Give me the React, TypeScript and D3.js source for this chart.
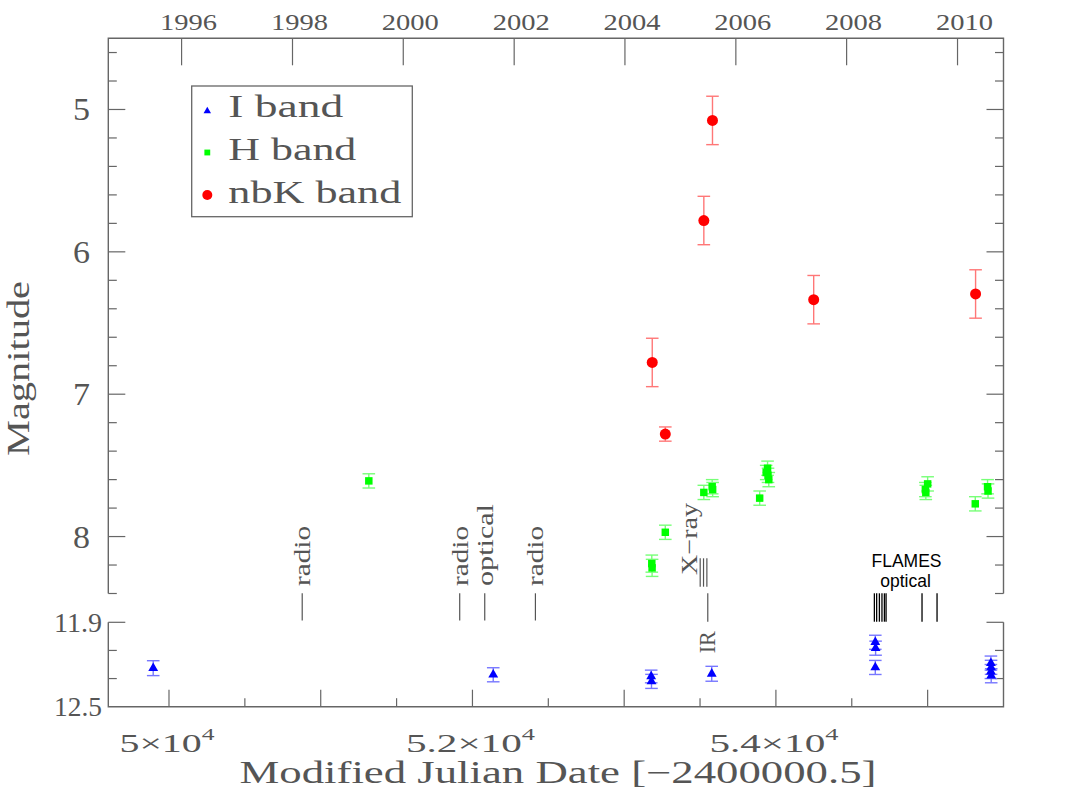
import React from "react";
import * as d3 from "d3";

// ---------- data ----------
const iBandMjd = [49896, 52137, 53178, 53180, 53577, 54655, 54657, 54655, 55417, 55418, 55417, 55419];
const iBandMag = [12.226, 12.273, 12.285, 12.32, 12.266, 12.042, 12.084, 12.221, 12.19, 12.22, 12.25, 12.28];
const iBandErr = [0.053, 0.05, 0.045, 0.05, 0.053, 0.05, 0.05, 0.05, 0.05, 0.05, 0.05, 0.05];

const hBandMjd = [51317, 53182, 53184, 53271, 53525, 53580, 53583, 53893, 53936, 53945, 53948, 53953, 54985, 54988, 55000, 55314, 55395, 55398];
const hBandMag = [7.609, 8.19, 8.22, 7.97, 7.69, 7.65, 7.67, 7.73, 7.55, 7.52, 7.57, 7.6, 7.67, 7.69, 7.63, 7.77, 7.65, 7.68];
const hBandErr = [0.05, 0.06, 0.06, 0.05, 0.05, 0.05, 0.05, 0.05, 0.05, 0.05, 0.05, 0.05, 0.05, 0.05, 0.05, 0.05, 0.05, 0.05];

const kBandMjd = [53582, 53525, 53185, 53271, 54249, 55316];
const kBandMag = [5.077, 5.78, 6.777, 7.28, 6.336, 6.296];
const kBandErr = [0.17, 0.17, 0.17, 0.05, 0.17, 0.17];

const legendLabels = ["I band", "H band", "nbK band"];
const legendWidths = [115, 128, 173];

const yearTicks = [1996, 1998, 2000, 2002, 2004, 2006, 2008, 2010];
const mjdTicks = [50000, 50500, 51000, 51500, 52000, 52500, 53000, 53500, 54000, 54500, 55000];
const mjdLabelValues = [50000, 52000, 54000];
const mjdLabelMantissa = ["5", "5.2", "5.4"];
const mjdLabelWidths = [95, 129, 129];
const upperMagTicks = [4.6, 4.8, 5, 5.2, 5.4, 5.6, 5.8, 6, 6.2, 6.4, 6.6, 6.8, 7, 7.2, 7.4, 7.6, 7.8, 8, 8.2, 8.4];
const upperMagLabels = [5, 6, 7, 8];
const lowerMagTicks = [11.9, 12.1, 12.3];
const lowerMagLabels = [11.9, 12.5];

const eventMjd = [50878, 51916, 52081, 52415];
const eventLabels = ["radio", "radio", "optical", "radio"];
const eventLabelLen = [60, 60, 82, 60];
const xrayMjd = [53501, 53523, 53545];
const irMjd = [53551];
const flamesMjd = [54649, 54664, 54682, 54699, 54715, 54726, 54963, 55062];

// ---------- layout ----------
const W = 1067, H = 797;
const X0 = 108.3, X1 = 1003.5;
const UT = 38.3, UB = 593.5;
const LT = 622.3, LB = 706.7;

const x = d3.scaleLinear().domain([49600, 55500]).range([X0, X1]);
const yU = d3.scaleLinear().domain([4.5, 8.4]).range([UT, UB]);
const yL = d3.scaleLinear().domain([11.9, 12.5]).range([LT, LB]);

const mjdOfYear = (y: number) => (Date.UTC(y, 0, 1) - Date.UTC(1858, 10, 17)) / 864e5;

const SERIF = "'Liberation Serif', 'DejaVu Serif', serif";
const SANS = "'Liberation Sans', Arial, sans-serif";
const TXT = "#555";
const AX = "#666";

const triPath = (s: number) => d3.symbol(d3.symbolTriangle, s)() as string;
const sqPath = (s: number) => d3.symbol(d3.symbolSquare, s)() as string;

function ErrBars({ mjd, mag, err, y, color }: any) {
  return (
    <g stroke={color} strokeWidth={1.4} fill="none">
      {mjd.map((m: number, i: number) => {
        const cx = x(m);
        const y1 = y(mag[i] - err[i]);
        const y2 = y(mag[i] + err[i]);
        return (
          <g key={i}>
            <line x1={cx} x2={cx} y1={y1} y2={y2} />
            <line x1={cx - 6.3} x2={cx + 6.3} y1={y1} y2={y1} />
            <line x1={cx - 6.3} x2={cx + 6.3} y1={y2} y2={y2} />
          </g>
        );
      })}
    </g>
  );
}

export default function App() {
  return (
    <svg width={W} height={H} style={{ position: "absolute", left: 0, top: 0 }} xmlns="http://www.w3.org/2000/svg">
      <rect width={W} height={H} fill="#fff" />

      {/* frames */}
      <path d={`M${X0},${UB}V${UT}H${X1}V${UB}`} fill="none" stroke={AX} strokeWidth={1.4} />
      <path d={`M${X0},${LT}V${LB}H${X1}V${LT}`} fill="none" stroke={AX} strokeWidth={1.4} />

      {/* ticks */}
      <g stroke={AX} strokeWidth={1.2}>
        {upperMagTicks.map((m) => {
          const len = Math.abs(m - Math.round(m)) < 1e-6 ? 17 : 8.5;
          const yy = yU(m);
          return (
            <g key={m}>
              <line x1={X0} x2={X0 + len} y1={yy} y2={yy} />
              <line x1={X1} x2={X1 - len} y1={yy} y2={yy} />
            </g>
          );
        })}
        {lowerMagTicks.map((m, i) => {
          const len = i === 0 ? 17 : 8.5;
          const yy = yL(m);
          return (
            <g key={m}>
              <line x1={X0} x2={X0 + len} y1={yy} y2={yy} />
              <line x1={X1} x2={X1 - len} y1={yy} y2={yy} />
            </g>
          );
        })}
        {mjdTicks.map((t) => {
          const len = t % 1000 === 0 ? 17 : 8.5;
          return <line key={t} x1={x(t)} x2={x(t)} y1={LB} y2={LB - len} />;
        })}
        {yearTicks.map((yr) => (
          <line key={yr} x1={x(mjdOfYear(yr))} x2={x(mjdOfYear(yr))} y1={UT} y2={UT + 27} />
        ))}
      </g>

      {/* tick labels */}
      <g fill={TXT} fontFamily={SERIF}>
        {upperMagLabels.map((m) => (
          <text key={m} x={90} y={yU(m) + 11} fontSize={31} textAnchor="end" textLength={17} lengthAdjust="spacingAndGlyphs">{m}</text>
        ))}
        {lowerMagLabels.map((m) => (
          <text key={m} x={102} y={yL(m) + 9.5} fontSize={27} textAnchor="end" textLength={48} lengthAdjust="spacingAndGlyphs">{m.toFixed(1)}</text>
        ))}
        {yearTicks.map((yr) => (
          <text key={yr} x={x(mjdOfYear(yr)) + 7} y={30} fontSize={24} textAnchor="middle" textLength={57} lengthAdjust="spacingAndGlyphs">{yr}</text>
        ))}
        {mjdLabelValues.map((v, i) => (
          <text key={v} x={x(v) - 2 - mjdLabelWidths[i] / 2} y={752} fontSize={25} textLength={mjdLabelWidths[i]} lengthAdjust="spacingAndGlyphs">
            {mjdLabelMantissa[i]}×10<tspan fontSize={16} dy={-12}>4</tspan>
          </text>
        ))}
      </g>

      {/* axis titles */}
      <text x={558} y={783} fontSize={31} fill={TXT} fontFamily={SERIF} textAnchor="middle" textLength={637} lengthAdjust="spacingAndGlyphs">
        Modified Julian Date [−2400000.5]
      </text>
      <text transform={`translate(29,368.5) rotate(-90)`} fontSize={32} fill={TXT} fontFamily={SERIF} textAnchor="middle" textLength={175} lengthAdjust="spacingAndGlyphs">
        Magnitude
      </text>

      {/* event markers */}
      <g stroke="#555" strokeWidth={1.2}>
        {eventMjd.map((m) => (
          <line key={m} x1={x(m)} x2={x(m)} y1={593.3} y2={620.5} />
        ))}
        {xrayMjd.map((m) => (
          <line key={m} x1={x(m)} x2={x(m)} y1={558.3} y2={586.7} />
        ))}
        {irMjd.map((m) => (
          <line key={m} x1={x(m)} x2={x(m)} y1={593.3} y2={621.7} />
        ))}
      </g>
      <g stroke="#000" strokeWidth={1.3}>
        {flamesMjd.map((m) => (
          <line key={m} x1={x(m)} x2={x(m)} y1={593.3} y2={621.7} />
        ))}
      </g>
      <g fill={TXT} fontFamily={SERIF} fontSize={24}>
        {eventMjd.map((m, i) => (
          <text key={m} transform={`translate(${x(m) + 8},586) rotate(-90)`} textLength={eventLabelLen[i]} lengthAdjust="spacingAndGlyphs">
            {eventLabels[i]}
          </text>
        ))}
        <text transform={`translate(${x(xrayMjd[0]) - 3.5},575) rotate(-90)`} fontSize={23} textLength={72} lengthAdjust="spacingAndGlyphs">X−ray</text>
        <text transform={`translate(${x(irMjd[0]) + 7},653.3) rotate(-90)`} fontSize={24} textLength={22} lengthAdjust="spacingAndGlyphs">IR</text>
      </g>
      <g fill="#000" fontFamily={SANS} fontSize={17.5} textAnchor="middle">
        <text x={906.5} y={567}>FLAMES</text>
        <text x={905.5} y={586.5}>optical</text>
      </g>

      {/* error bars */}
      <ErrBars mjd={kBandMjd} mag={kBandMag} err={kBandErr} y={yU} color="#ff7777" />
      <ErrBars mjd={hBandMjd} mag={hBandMag} err={hBandErr} y={yU} color="#77ff77" />
      <ErrBars mjd={iBandMjd} mag={iBandMag} err={iBandErr} y={yL} color="#7777ff" />

      {/* markers */}
      <g fill="#ff0000">
        {kBandMjd.map((m, i) => (
          <circle key={i} cx={x(m)} cy={yU(kBandMag[i])} r={5.5} />
        ))}
      </g>
      <g fill="#00ff00">
        {hBandMjd.map((m, i) => (
          <path key={i} d={sqPath(56)} transform={`translate(${x(m)},${yU(hBandMag[i])})`} />
        ))}
      </g>
      <g fill="#0000ff">
        {iBandMjd.map((m, i) => (
          <path key={i} d={triPath(42)} transform={`translate(${x(m)},${yL(iBandMag[i])})`} />
        ))}
      </g>

      {/* legend */}
      <rect x={191.7} y={86} width={220.6} height={130.7} fill="#fff" stroke={AX} strokeWidth={1.3} />
      <path d={triPath(24)} transform="translate(207.3,111)" fill="#0000ff" />
      <path d={sqPath(34)} transform="translate(207.3,152.5)" fill="#00ff00" />
      <circle cx={207.3} cy={195} r={5} fill="#ff0000" />
      <g fill={TXT} fontFamily={SERIF} fontSize={31}>
        {legendLabels.map((l, i) => (
          <text key={l} x={228.3} y={117.3 + i * 43} textLength={legendWidths[i]} lengthAdjust="spacingAndGlyphs">{l}</text>
        ))}
      </g>
    </svg>
  );
}
